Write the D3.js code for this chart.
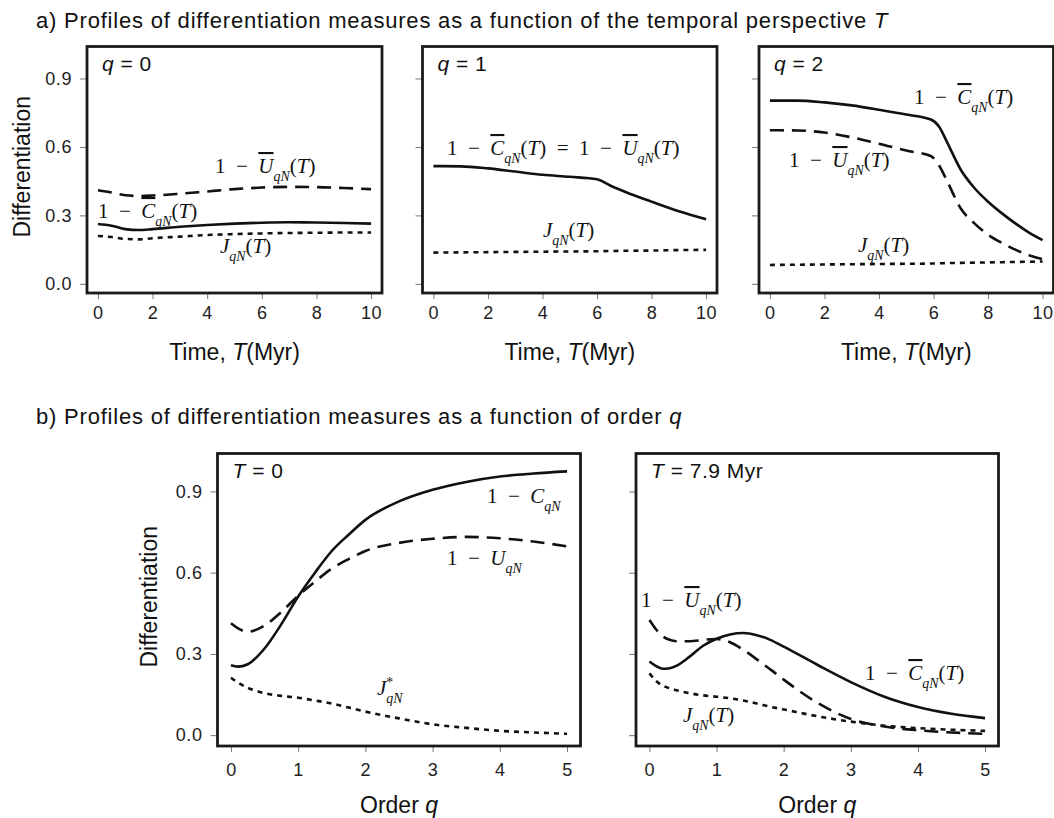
<!DOCTYPE html>
<html>
<head>
<meta charset="utf-8">
<script src="https://cdn.jsdelivr.net/npm/d3@7"></script>
<style>
  body { margin: 0; background: #fff; }
  svg { display: block; }
</style>
</head>
<body>
<script>
// ---- data ----
// a) q = 0
const q0Time = [0, 0.5, 1, 1.5, 2, 3, 4, 5, 6, 7, 8, 9, 10]
const q0U = [0.41, 0.40, 0.388, 0.385, 0.387, 0.395, 0.405, 0.415, 0.422, 0.425, 0.424, 0.42, 0.415]
const q0C = [0.262, 0.255, 0.24, 0.236, 0.24, 0.25, 0.258, 0.264, 0.268, 0.27, 0.269, 0.267, 0.264]
const q0J = [0.21, 0.205, 0.197, 0.195, 0.2, 0.207, 0.214, 0.218, 0.221, 0.223, 0.224, 0.225, 0.225]

// a) q = 1 (C and U coincide)
const q1Time = [0, 1, 2, 3, 4, 5, 6, 6.5, 7, 8, 9, 10]
const q1CU = [0.516, 0.515, 0.506, 0.492, 0.478, 0.469, 0.458, 0.43, 0.405, 0.36, 0.318, 0.283]
const q1J = [0.137, 0.138, 0.139, 0.140, 0.141, 0.142, 0.143, 0.144, 0.145, 0.146, 0.148, 0.149]

// a) q = 2
const q2Time = [0, 1, 2, 3, 4, 5, 5.9, 6.2, 6.5, 7, 7.5, 8, 8.5, 9, 9.5, 10]
const q2C = [0.803, 0.803, 0.795, 0.782, 0.763, 0.742, 0.72, 0.69, 0.62, 0.5, 0.42, 0.36, 0.31, 0.265, 0.225, 0.192]
const q2U = [0.673, 0.672, 0.663, 0.642, 0.614, 0.584, 0.56, 0.52, 0.45, 0.33, 0.265, 0.215, 0.18, 0.15, 0.125, 0.108]
const q2J = [0.083, 0.084, 0.085, 0.086, 0.087, 0.088, 0.089, 0.09, 0.091, 0.092, 0.093, 0.094, 0.095, 0.096, 0.097, 0.098]

// b) T = 0
const orderT0 = [0, 0.1, 0.25, 0.5, 0.75, 1, 1.25, 1.5, 1.75, 2, 2.5, 3, 3.5, 4, 4.5, 5]
const t0C = [0.258, 0.253, 0.262, 0.32, 0.41, 0.512, 0.6, 0.68, 0.74, 0.795, 0.863, 0.906, 0.935, 0.955, 0.966, 0.974]
const t0U = [0.413, 0.395, 0.382, 0.405, 0.455, 0.515, 0.567, 0.615, 0.65, 0.68, 0.71, 0.725, 0.732, 0.727, 0.715, 0.697]
const t0J = [0.212, 0.195, 0.175, 0.155, 0.145, 0.138, 0.128, 0.117, 0.102, 0.087, 0.062, 0.04, 0.027, 0.016, 0.01, 0.005]

// b) T = 7.9 Myr
const orderT79 = [0, 0.1, 0.2, 0.3, 0.4, 0.6, 0.8, 1, 1.2, 1.4, 1.6, 1.8, 2, 2.5, 3, 3.5, 4, 4.5, 5]
const t79C = [0.272, 0.255, 0.245, 0.247, 0.256, 0.29, 0.33, 0.356, 0.372, 0.377, 0.369, 0.352, 0.327, 0.26, 0.196, 0.142, 0.104, 0.079, 0.063]
const t79U = [0.425, 0.39, 0.365, 0.352, 0.347, 0.347, 0.352, 0.355, 0.343, 0.315, 0.28, 0.243, 0.205, 0.12, 0.06, 0.032, 0.018, 0.01, 0.005]
const t79J = [0.228, 0.2, 0.183, 0.173, 0.166, 0.155, 0.147, 0.142, 0.136, 0.128, 0.117, 0.105, 0.095, 0.07, 0.05, 0.035, 0.026, 0.02, 0.016]

// tick labels
const timeTicks = [0, 2, 4, 6, 8, 10]
const orderTicks = [0, 1, 2, 3, 4, 5]
const yTicks = [0, 0.3, 0.6, 0.9]

/**
 * Setup
 */
const sans = "'Liberation Sans', Arial, Helvetica, sans-serif"
const serif = "'Liberation Serif', 'Times New Roman', serif"
const ink = "#111"

const svg = d3.select("body").append("svg")
    .attr("width", 1054)
    .attr("height", 818)

const dash = { solid: null, dashed: "14,8", dotted: "5,5" }

// pieces of the math labels
const lbl = {
    C: [{ t: "1\u2002\u2212\u2002" }, { t: "C", it: 1, bar: 1 }, { t: "qN", it: 1, sub: 1 }, { t: "(" }, { t: "T", it: 1 }, { t: ")" }],
    U: [{ t: "1\u2002\u2212\u2002" }, { t: "U", it: 1, bar: 1 }, { t: "qN", it: 1, sub: 1 }, { t: "(" }, { t: "T", it: 1 }, { t: ")" }],
    J: [{ t: "J", it: 1 }, { t: "qN", it: 1, sub: 1 }, { t: "(" }, { t: "T", it: 1 }, { t: ")" }],
    CU: [{ t: "1\u2002\u2212\u2002" }, { t: "C", it: 1, bar: 1 }, { t: "qN", it: 1, sub: 1 }, { t: "(" }, { t: "T", it: 1 }, { t: ")\u2002=\u20021\u2002\u2212\u2002" },
         { t: "U", it: 1, bar: 1 }, { t: "qN", it: 1, sub: 1 }, { t: "(" }, { t: "T", it: 1 }, { t: ")" }],
    C0: [{ t: "1\u2002\u2212\u2002" }, { t: "C", it: 1 }, { t: "qN", it: 1, sub: 1 }],
    U0: [{ t: "1\u2002\u2212\u2002" }, { t: "U", it: 1 }, { t: "qN", it: 1, sub: 1 }],
    Js: [{ t: "J", it: 1 }, { t: "*", sup: 1 }, { t: "qN", it: 1, sub: 1, back: 7 }]
}

const addMath = (g, x, y, parts) => {
    const size = 21
    const txt = g.append("text")
        .attr("x", x).attr("y", y)
        .attr("font-family", serif)
        .attr("font-size", size)
        .attr("fill", ink)
        .style("white-space", "pre")
    let shift = 0
    parts.forEach(p => {
        const target = p.sub ? size * 0.38 : p.sup ? -size * 0.38 : 0
        const sp = txt.append("tspan").text(p.t).attr("dy", target - shift)
        shift = target
        if (p.sub || p.sup) sp.attr("font-size", size * 0.66)
        if (p.it) sp.attr("font-style", "italic")
        if (p.bar) sp.style("text-decoration", "overline")
        if (p.back) sp.attr("dx", -p.back)
    })
}

/**
 * Panels
 */
const panels = [
    { box: [87, 46.5, 382, 293], x: [-0.4, 10.4], ticks: timeTicks, yLab: 22, xTitle: "time", pad: 7,
      head: [{ t: "q", it: 1 }, { t: " = 0" }],
      series: [[q0Time, q0U, "dashed"], [q0Time, q0C, "solid"], [q0Time, q0J, "dotted"]],
      labels: [["U", 215, 173], ["C", 98, 218], ["J", 220, 253]] },
    { box: [422.5, 46.5, 717, 293], x: [-0.4, 10.4], ticks: timeTicks, yLab: null, xTitle: "time", pad: 7,
      head: [{ t: "q", it: 1 }, { t: " = 1" }],
      series: [[q1Time, q1CU, "solid"], [q1Time, q1J, "dotted"]],
      labels: [["CU", 447, 155], ["J", 543, 237]] },
    { box: [759, 46.5, 1053.5, 293], x: [-0.4, 10.4], ticks: timeTicks, yLab: null, xTitle: "time", pad: 7,
      head: [{ t: "q", it: 1 }, { t: " = 2" }],
      series: [[q2Time, q2C, "solid"], [q2Time, q2U, "dashed"], [q2Time, q2J, "dotted"]],
      labels: [["C", 914, 104], ["U", 789, 167], ["J", 858, 252]] },
    { box: [217.5, 453.5, 580.5, 746], x: [-0.2, 5.2], ticks: orderTicks, yLab: 149, xTitle: "order", pad: 11,
      head: [{ t: "T", it: 1 }, { t: " = 0" }],
      series: [[orderT0, t0C, "solid"], [orderT0, t0U, "dashed"], [orderT0, t0J, "dotted"]],
      labels: [["C0", 487, 503], ["U0", 447, 565], ["Js", 377, 695]] },
    { box: [636, 453.5, 998.5, 746], x: [-0.2, 5.2], ticks: orderTicks, yLab: null, xTitle: "order", pad: 11,
      head: [{ t: "T", it: 1 }, { t: " = 7.9 Myr" }],
      series: [[orderT79, t79C, "solid"], [orderT79, t79U, "dashed"], [orderT79, t79J, "dotted"]],
      labels: [["U", 641, 607], ["C", 865, 680], ["J", 683, 722]] }
]

panels.forEach(p => {
    const [x0, y0, x1, y1] = p.box
    const x = d3.scaleLinear().domain(p.x).range([x0, x1])
    const y = d3.scaleLinear().domain([-0.04, 1.04]).range([y1, y0])
    const g = svg.append("g")

    // axes (ticks outside the box)
    const xAxis = g.append("g")
        .attr("transform", `translate(0,${y1})`)
        .call(d3.axisBottom(x).tickValues(p.ticks).tickSize(6).tickPadding(p.pad).tickFormat(d3.format("d")))
    const yAxis = g.append("g")
        .attr("transform", `translate(${x0},0)`)
        .call(d3.axisLeft(y).tickValues(yTicks).tickSize(7).tickPadding(8)
            .tickFormat(p.yLab ? d3.format(".1f") : ""))
    ;[xAxis, yAxis].forEach(a => {
        a.select(".domain").remove()
        a.selectAll(".tick line").attr("stroke", "#777").attr("stroke-width", 1)
        a.selectAll(".tick text")
            .attr("font-family", sans)
            .attr("font-size", 18)
            .attr("letter-spacing", 0.6)
            .attr("fill", "#222")
    })

    // curves
    const line = d3.line()
        .x(d => x(d[0]))
        .y(d => y(d[1]))
        .curve(d3.curveMonotoneX)
    p.series.forEach(([xs, ys, style]) => {
        g.append("path")
            .datum(xs.map((v, i) => [v, ys[i]]))
            .attr("d", line)
            .attr("fill", "none")
            .attr("stroke", ink)
            .attr("stroke-width", 2.6)
            .attr("stroke-dasharray", dash[style])
    })

    // frame
    g.append("rect")
        .attr("x", x0).attr("y", y0)
        .attr("width", x1 - x0).attr("height", y1 - y0)
        .attr("fill", "none")
        .attr("stroke", "#1a1a1a")
        .attr("stroke-width", 2.8)

    // panel header (q = 0, T = 0 ...)
    const head = g.append("text")
        .attr("x", x0 + 15).attr("y", y0 + 24)
        .attr("font-family", sans)
        .attr("font-size", 21)
        .attr("letter-spacing", 0.5)
        .attr("fill", ink)
        .style("white-space", "pre")
    p.head.forEach(h => {
        const s = head.append("tspan").text(h.t)
        if (h.it) s.attr("font-style", "italic")
    })

    p.labels.forEach(([k, lx, ly]) => addMath(g, lx, ly, lbl[k]))

    // axis titles
    const xt = g.append("text")
        .attr("x", (x0 + x1) / 2)
        .attr("y", p.xTitle === "time" ? 360 : 813)
        .attr("text-anchor", "middle")
        .attr("font-family", sans)
        .attr("font-size", 23)
        .attr("fill", ink)
    if (p.xTitle === "time") {
        xt.append("tspan").text("Time, ")
        xt.append("tspan").text("T").attr("font-style", "italic")
        xt.append("tspan").text("(Myr)")
    } else {
        xt.append("tspan").text("Order ")
        xt.append("tspan").text("q").attr("font-style", "italic")
    }

    if (p.yLab) {
        g.append("text")
            .attr("transform", `translate(${p.yLab},${(y0 + y1) / 2 - 3}) rotate(-90)`)
            .attr("text-anchor", "middle")
            .attr("dy", "0.35em")
            .attr("font-family", sans)
            .attr("font-size", 23)
            .attr("fill", ink)
            .text("Differentiation")
    }
})

/**
 * Section titles
 */
const titleA = svg.append("text")
    .attr("x", 36).attr("y", 28)
    .attr("font-family", sans).attr("font-size", 22).attr("letter-spacing", 0.8).attr("fill", ink)
titleA.append("tspan").text("a) Profiles of differentiation measures as a function of the temporal perspective ")
titleA.append("tspan").text("T").attr("font-style", "italic")

const titleB = svg.append("text")
    .attr("x", 36).attr("y", 424)
    .attr("font-family", sans).attr("font-size", 22).attr("letter-spacing", 0.8).attr("fill", ink)
titleB.append("tspan").text("b) Profiles of differentiation measures as a function of order ")
titleB.append("tspan").text("q").attr("font-style", "italic")
</script>
</body>
</html>
